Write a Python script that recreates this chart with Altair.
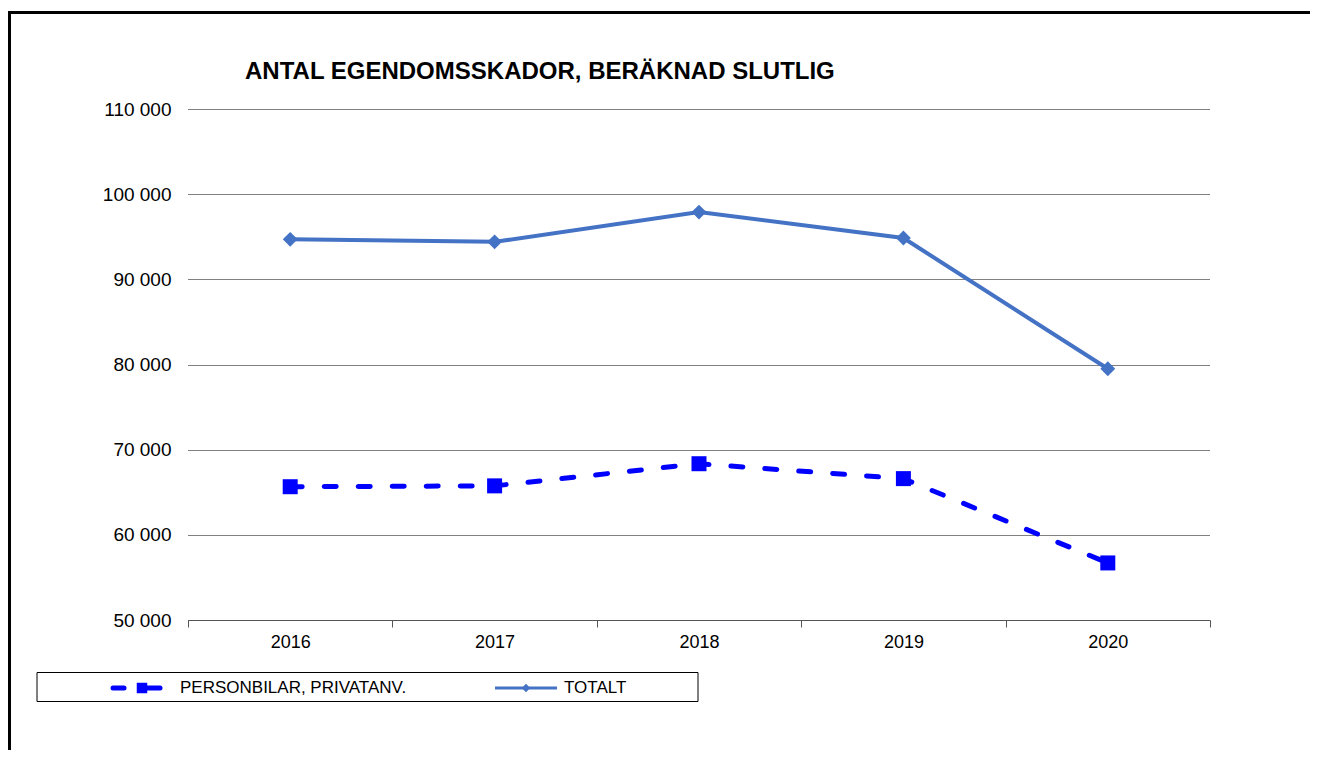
import altair as alt
import pandas as pd

# ---- data ----
years = ["2016", "2017", "2018", "2019", "2020"]
personbilar = [65650, 65750, 68350, 66600, 56700]
totalt = [94700, 94400, 97900, 94850, 79500]
y_ticks = [50000, 60000, 70000, 80000, 90000, 100000, 110000]
title_text = "ANTAL EGENDOMSSKADOR, BERÄKNAD SLUTLIG"
legend_labels = ["PERSONBILAR, PRIVATANV.", "TOTALT"]

FONT = "Liberation Sans"
BLUE = "#0000FF"
STEEL = "#4472C4"

df_p = pd.DataFrame({"year": years, "value": personbilar})
df_t = pd.DataFrame({"year": years, "value": totalt})

x_enc = alt.X(
    "year:O",
    scale=alt.Scale(type="band", paddingInner=0, paddingOuter=0),
    bandPosition=0.5,
    axis=alt.Axis(
        title=None, labelAngle=0, tickBand="extent", grid=False,
        domainColor="#555555", tickColor="#555555", tickSize=7,
        labelFont=FONT, labelFontSize=18, labelColor="black", labelPadding=6,
    ),
)
y_enc = alt.Y(
    "value:Q",
    scale=alt.Scale(domain=[50000, 110000], nice=False, zero=False),
    axis=alt.Axis(
        title=None, values=y_ticks, domain=False, ticks=False,
        grid=True, gridColor="#000000", gridDash=[1, 1], gridWidth=1, gridOpacity=1,
        labelFont=FONT, labelFontSize=19, labelColor="black", labelPadding=17,
        labelExpr="floor(datum.value/1000) + ' 000'",
    ),
)

line_p = alt.Chart(df_p).mark_line(
    color=BLUE, strokeWidth=5, strokeDash=[12, 22], strokeCap="round"
).encode(x=x_enc, y=y_enc)
pts_p = alt.Chart(df_p).mark_point(
    shape="square", size=225, filled=True, color=BLUE, opacity=1
).encode(x=x_enc, y=y_enc)

line_t = alt.Chart(df_t).mark_line(color=STEEL, strokeWidth=4).encode(x=x_enc, y=y_enc)
pts_t = alt.Chart(df_t).mark_point(
    shape="diamond", size=220, filled=True, color=STEEL, opacity=1
).encode(x=x_enc, y=y_enc)

one = pd.DataFrame({"t": [title_text]})

# outer frame
frame = alt.Chart(one).mark_rect(
    fillOpacity=0, stroke="black", strokeWidth=3
).encode(x=alt.value(-178.5), x2=alt.value(1300), y=alt.value(-96.5), y2=alt.value(900))

title = alt.Chart(one).mark_text(
    font=FONT, fontSize=24, fontWeight="bold", align="left", baseline="alphabetic", color="black"
).encode(text="t:N", x=alt.value(57), y=alt.value(-30))

# legend (manual, Excel style)
leg_box = alt.Chart(one).mark_rect(
    fillOpacity=0, stroke="black", strokeWidth=1
).encode(x=alt.value(-151), x2=alt.value(510), y=alt.value(563.5), y2=alt.value(592.5))

LY = 579
leg_p1 = alt.Chart(one).mark_rule(color=BLUE, strokeWidth=5, strokeCap="round").encode(
    x=alt.value(-75), x2=alt.value(-64), y=alt.value(LY))
leg_p2 = alt.Chart(one).mark_rule(color=BLUE, strokeWidth=5, strokeCap="round").encode(
    x=alt.value(-48), x2=alt.value(-28), y=alt.value(LY))
leg_p3 = alt.Chart(one).mark_point(shape="square", size=110, filled=True, color=BLUE, opacity=1).encode(
    x=alt.value(-46), y=alt.value(LY))
leg_pt = alt.Chart(pd.DataFrame({"t": [legend_labels[0]]})).mark_text(
    font=FONT, fontSize=17, align="left", baseline="middle", color="black"
).encode(text="t:N", x=alt.value(-8), y=alt.value(LY))

leg_t1 = alt.Chart(one).mark_rule(color=STEEL, strokeWidth=3).encode(
    x=alt.value(307), x2=alt.value(369), y=alt.value(LY))
leg_t2 = alt.Chart(one).mark_point(shape="diamond", size=70, filled=True, color=STEEL, opacity=1).encode(
    x=alt.value(338), y=alt.value(LY))
leg_tt = alt.Chart(pd.DataFrame({"t": [legend_labels[1]]})).mark_text(
    font=FONT, fontSize=17, align="left", baseline="middle", color="black"
).encode(text="t:N", x=alt.value(376), y=alt.value(LY))

chart = alt.layer(
    line_p, pts_p, line_t, pts_t,
    frame, title, leg_box, leg_p1, leg_p2, leg_p3, leg_pt, leg_t1, leg_t2, leg_tt,
).properties(
    width=1022, height=511,
    autosize=alt.AutoSizeParams(type="none"),
    padding={"left": 180, "top": 101, "right": 100, "bottom": 130},
).configure(background="white").configure_view(stroke="transparent", strokeWidth=0)

chart.save("out.html", embed_options={"renderer": "svg", "actions": False})
